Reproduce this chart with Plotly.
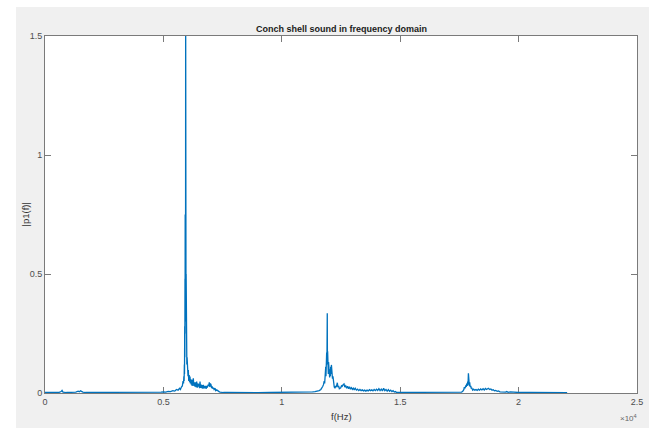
import plotly.graph_objects as go

# ---- data (frequency in Hz, |p1(f)|) ----
freq_low = [0, 200, 400, 600, 680, 720, 760, 900, 1100, 1300, 1400, 1450, 1500, 1550, 1600, 1700,
            2000, 2500, 3000, 3500, 4000, 4400, 4700, 4800, 4900, 5000, 5100, 5200, 5300, 5400,
            5480, 5550, 5620, 5680, 5720, 5760]
amp_low = [0.003, 0.002, 0.002, 0.003, 0.006, 0.011, 0.004, 0.002, 0.003, 0.004, 0.008, 0.005, 0.009,
           0.006, 0.004, 0.002, 0.002, 0.002, 0.001, 0.002, 0.002, 0.003, 0.004, 0.003, 0.004, 0.005,
           0.004, 0.007, 0.006, 0.010, 0.008, 0.015, 0.012, 0.020, 0.015, 0.025]

freq_h1 = [5800, 5830, 5850, 5865, 5875, 5885, 5892, 5900, 5906, 5912, 5916, 5920, 5925, 5930, 5935,
           5940, 5945, 5950, 5955, 5960, 5966, 5972, 5978, 5984, 5990, 6000, 6010, 6025, 6040, 6052,
           6070, 6090, 6110, 6123, 6140, 6160, 6180, 6195, 6215, 6240, 6263, 6285, 6310, 6334, 6355,
           6380, 6406, 6430, 6450, 6474, 6500, 6525, 6546, 6570, 6595, 6617, 6640, 6665, 6685, 6710,
           6735, 6757, 6780, 6805, 6829, 6860, 6890, 6915, 6938, 6960, 6985, 7010, 7040, 7060, 7082,
           7110, 7140, 7179, 7210, 7251, 7300, 7350, 7390, 7450, 7530]
amp_h1 = [0.030, 0.050, 0.040, 0.070, 0.050, 0.120, 0.080, 0.280, 0.150, 0.480, 0.250, 0.750, 0.350,
          0.620, 0.300, 1.620, 0.550, 0.700, 0.320, 0.500, 0.220, 0.350, 0.160, 0.200, 0.120, 0.150,
          0.090, 0.110, 0.070, 0.097, 0.050, 0.075, 0.045, 0.069, 0.040, 0.058, 0.035, 0.055, 0.030,
          0.050, 0.062, 0.030, 0.045, 0.027, 0.045, 0.025, 0.048, 0.022, 0.040, 0.027, 0.038, 0.020,
          0.048, 0.022, 0.035, 0.020, 0.033, 0.018, 0.034, 0.020, 0.030, 0.020, 0.030, 0.018, 0.027,
          0.025, 0.035, 0.030, 0.045, 0.025, 0.040, 0.035, 0.020, 0.028, 0.018, 0.022, 0.015, 0.020,
          0.010, 0.013, 0.008, 0.006, 0.004, 0.003, 0.002]

freq_mid1 = [7700, 8000, 8500, 9000, 9500, 10000, 10500, 11000, 11200]
amp_mid1 = [0.003, 0.002, 0.002, 0.001, 0.002, 0.002, 0.003, 0.003, 0.004]

freq_h2 = [11300, 11400, 11500, 11580, 11650, 11700, 11726, 11760, 11790, 11810, 11824, 11840, 11855,
           11865, 11875, 11885, 11895, 11905, 11912, 11920, 11926, 11935, 11945, 11955, 11965, 11975,
           11990, 12005, 12020, 12035, 12050, 12065, 12080, 12095, 12106, 12120, 12140, 12160, 12176,
           12195, 12215, 12246, 12270, 12300, 12320, 12345, 12370, 12400, 12430, 12458, 12490, 12520,
           12550, 12590, 12627, 12660, 12700, 12740, 12780, 12820, 12860, 12900, 12940, 12980, 13020,
           13060, 13100, 13150, 13200, 13250, 13300, 13350, 13400, 13450, 13500, 13550, 13600, 13650,
           13700, 13750, 13800, 13850, 13900, 13950, 14000, 14050, 14100, 14150, 14200, 14250, 14300,
           14350, 14400, 14450, 14500, 14550, 14600, 14650, 14700, 14750, 14800, 14850]
amp_h2 = [0.005, 0.006, 0.008, 0.010, 0.015, 0.020, 0.027, 0.035, 0.050, 0.040, 0.077, 0.060, 0.110,
          0.070, 0.150, 0.090, 0.170, 0.120, 0.180, 0.335, 0.140, 0.175, 0.100, 0.160, 0.080, 0.130,
          0.070, 0.110, 0.065, 0.100, 0.070, 0.110, 0.080, 0.118, 0.090, 0.100, 0.060, 0.070, 0.040,
          0.050, 0.025, 0.020, 0.030, 0.025, 0.040, 0.043, 0.025, 0.030, 0.018, 0.020, 0.022, 0.030,
          0.028, 0.035, 0.038, 0.025, 0.030, 0.020, 0.028, 0.018, 0.026, 0.016, 0.022, 0.015, 0.020,
          0.013, 0.020, 0.012, 0.016, 0.010, 0.015, 0.010, 0.013, 0.009, 0.012, 0.008, 0.012, 0.009,
          0.014, 0.010, 0.013, 0.009, 0.015, 0.010, 0.016, 0.011, 0.018, 0.010, 0.016, 0.009, 0.020,
          0.010, 0.015, 0.008, 0.014, 0.007, 0.012, 0.006, 0.010, 0.004, 0.006, 0.002]

freq_mid2 = [15000, 15500, 16000, 16500, 17000, 17300, 17500]
amp_mid2 = [0.002, 0.002, 0.001, 0.002, 0.002, 0.003, 0.003]

freq_h3 = [17596, 17650, 17690, 17708, 17740, 17770, 17790, 17807, 17830, 17850, 17865, 17880, 17890,
           17905, 17920, 17935, 17955, 17980, 18000, 18020, 18060, 18100, 18150, 18200, 18250, 18300,
           18350, 18400, 18450, 18500, 18550, 18600, 18650, 18722, 18780, 18830, 18880, 18930, 18980,
           19030, 19100, 19150, 19214, 19300, 19355, 19450, 19500, 19560, 19650, 19720, 19778, 19850,
           20000, 20500, 21000, 21500, 22050]
amp_h3 = [0.004, 0.008, 0.015, 0.025, 0.020, 0.032, 0.025, 0.040, 0.030, 0.048, 0.035, 0.083, 0.045,
          0.050, 0.030, 0.045, 0.025, 0.030, 0.018, 0.022, 0.012, 0.016, 0.012, 0.015, 0.011, 0.016,
          0.012, 0.017, 0.013, 0.018, 0.013, 0.019, 0.015, 0.020, 0.015, 0.017, 0.012, 0.014, 0.009,
          0.011, 0.007, 0.009, 0.005, 0.004, 0.003, 0.004, 0.006, 0.003, 0.005, 0.004, 0.006, 0.003,
          0.002, 0.002, 0.001, 0.002, 0.001]

freq = freq_low + freq_h1 + freq_mid1 + freq_h2 + freq_mid2 + freq_h3
amp = amp_low + amp_h1 + amp_mid1 + amp_h2 + amp_mid2 + amp_h3

x_ticks = [0, 5000, 10000, 15000, 20000, 25000]
x_tick_labels = ["0", "0.5", "1", "1.5", "2", "2.5"]
y_ticks = [0, 0.5, 1, 1.5]
y_tick_labels = ["0", "0.5", "1", "1.5"]

title_text = "Conch shell sound in frequency domain"
x_label = "f(Hz)"
y_label = "|p1(f)|"

# ---- figure ----
W, H = 655, 428
L, R, T, B = 45, 18, 36, 35
pw, ph = W - L - R, H - T - B

def px2paper_x(px):
    return (px - L) / pw

def px2paper_y(py):
    return (H - B - py) / ph

FONT = "Liberation Sans, Arial, Helvetica, sans-serif"
AX = "#7a7a7a"
TXT = "#4d4d4d"

fig = go.Figure()
fig.add_trace(go.Scatter(x=freq, y=amp, mode="lines",
                         line=dict(color="#0072BD", width=1.3), hoverinfo="skip"))

fig.update_layout(
    width=W, height=H,
    margin=dict(l=L, r=R, t=T, b=B),
    paper_bgcolor="white", plot_bgcolor="white",
    showlegend=False,
    font=dict(family=FONT, size=9, color=TXT),
    shapes=[
        dict(type="rect", xref="paper", yref="paper", layer="below",
             x0=px2paper_x(16), x1=px2paper_x(649), y0=px2paper_y(428), y1=px2paper_y(7),
             fillcolor="#f0f0f0", line=dict(width=0)),
        dict(type="rect", xref="paper", yref="paper", layer="below",
             x0=0, x1=1, y0=0, y1=1, fillcolor="white", line=dict(width=0)),
    ],
)

fig.update_xaxes(range=[0, 25000], tickvals=x_ticks, ticktext=x_tick_labels,
                 showgrid=False, zeroline=False, showline=True, linecolor=AX, linewidth=1,
                 mirror="ticks", ticks="inside", ticklen=6, tickcolor=AX, tickwidth=1,
                 tickfont=dict(family=FONT, size=9, color=TXT), layer="below traces")
fig.update_yaxes(range=[0, 1.5], tickvals=y_ticks, ticktext=y_tick_labels,
                 showgrid=False, zeroline=False, showline=True, linecolor=AX, linewidth=1,
                 mirror="ticks", ticks="inside", ticklen=6, tickcolor=AX, tickwidth=1,
                 tickfont=dict(family=FONT, size=9, color=TXT), layer="below traces")

fig.add_annotation(text="<b>" + title_text + "</b>", xref="paper", yref="paper",
                   x=0.5, y=px2paper_y(28.5), xanchor="center", yanchor="middle",
                   showarrow=False, font=dict(family=FONT, size=9, color="#1a1a1a"))
fig.add_annotation(text=x_label, xref="paper", yref="paper",
                   x=0.5, y=px2paper_y(416), xanchor="center", yanchor="middle",
                   showarrow=False, font=dict(family=FONT, size=9.5, color="#333333"))
fig.add_annotation(text=y_label, xref="paper", yref="paper", textangle=-90,
                   x=px2paper_x(25), y=px2paper_y(214.5), xanchor="center", yanchor="middle",
                   showarrow=False, font=dict(family=FONT, size=9.5, color="#333333"))
fig.add_annotation(text="×10<sup>4</sup>", xref="paper", yref="paper",
                   x=px2paper_x(639), y=px2paper_y(418), xanchor="right", yanchor="middle",
                   showarrow=False, font=dict(family=FONT, size=8, color="#666666"))

fig.write_html("out.html")
